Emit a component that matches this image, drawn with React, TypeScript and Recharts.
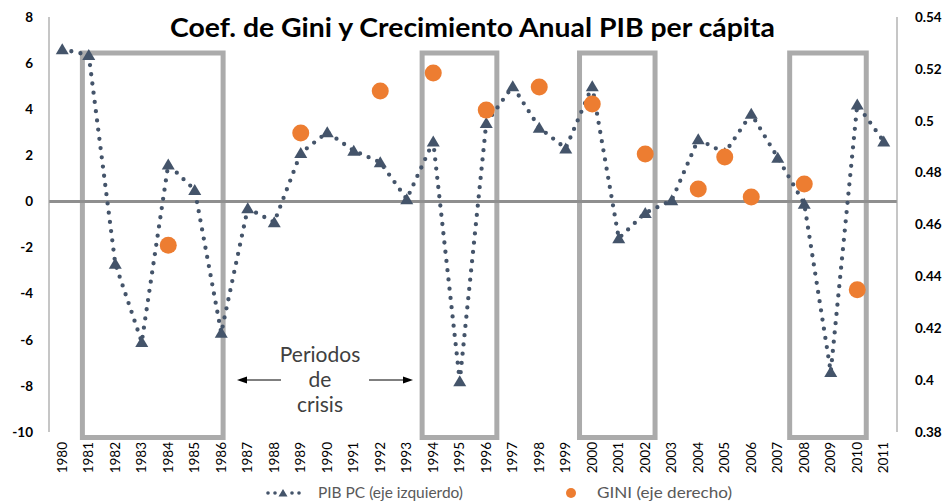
import {
  ComposedChart,
  Line,
  Scatter,
  XAxis,
  YAxis,
  ReferenceLine,
  ReferenceArea,
} from "recharts";

const years = [
  1980, 1981, 1982, 1983, 1984, 1985, 1986, 1987, 1988, 1989, 1990, 1991,
  1992, 1993, 1994, 1995, 1996, 1997, 1998, 1999, 2000, 2001, 2002, 2003,
  2004, 2005, 2006, 2007, 2008, 2009, 2010, 2011,
];

// crecimiento anual PIB per cápita (eje izquierdo)
const pibPC = [
  6.6, 6.35, -2.7, -6.1, 1.6, 0.5, -5.7, -0.3, -0.9, 2.1, 3.0, 2.2, 1.7, 0.1,
  2.6, -7.8, 3.4, 5.0, 3.2, 2.3, 5.0, -1.6, -0.5, 0.05, 2.7, 2.1, 3.8, 1.9,
  -0.1, -7.4, 4.2, 2.6,
];

// coeficiente de Gini (eje derecho)
const giniYears = [
  1984, 1989, 1992, 1994, 1996, 1998, 2000, 2002, 2004, 2005, 2006, 2008, 2010,
];
const giniValues = [
  0.452, 0.4953, 0.5115, 0.5184, 0.5041, 0.513, 0.5065, 0.4872, 0.4737, 0.486,
  0.4706, 0.4756, 0.4348,
];

// periodos de crisis (recuadros)
const crisisFrom = [1980.76, 1993.58, 1999.52, 2007.45];
const crisisTo = [1986.07, 1996.4, 2002.37, 2010.34];

const leftTicks = [-10, -8, -6, -4, -2, 0, 2, 4, 6, 8];
const rightTicks = [0.38, 0.4, 0.42, 0.44, 0.46, 0.48, 0.5, 0.52, 0.54];

const pibData = years.map((year, i) => ({ year, pib: pibPC[i] }));
const giniData = giniYears.map((year, i) => ({ year, gini: giniValues[i] }));

const FONT = "Lato, 'Open Sans', sans-serif";
const NAVY = "#44546A";
const ORANGE = "#ED7D31";
const BOX = "#ABABAB";

const Triangle = (props: any) => {
  const { cx, cy } = props;
  if (cx == null || cy == null) return null;
  return (
    <polygon
      points={`${cx},${cy - 6} ${cx + 6.5},${cy + 5} ${cx - 6.5},${cy + 5}`}
      fill={NAVY}
    />
  );
};

const YearTick = (props: any) => {
  const { x, y, payload } = props;
  return (
    <text
      transform={`translate(${x},${y + 10}) rotate(-90)`}
      textAnchor="end"
      dy="0.35em"
      fontFamily={FONT}
      fontSize={13.5}
      fill="#000"
    >
      {payload.value}
    </text>
  );
};

const fmtRight = (v: number) => String(Number(v.toFixed(2)));

export default function App() {
  return (
    <div style={{ position: "absolute", left: 0, top: 0, width: 948, height: 501 }}>
      <ComposedChart
        width={948}
        height={501}
        data={pibData}
        margin={{ top: 17, right: 0, bottom: 0, left: 0 }}
      >
        <XAxis
          dataKey="year"
          type="number"
          domain={[1979.5, 2011.5]}
          ticks={years}
          interval={0}
          axisLine={false}
          tickLine={false}
          tickSize={0}
          tickMargin={0}
          height={69}
          tick={<YearTick />}
        />
        <YAxis
          yAxisId="left"
          orientation="left"
          domain={[-10, 8]}
          ticks={leftTicks}
          width={49}
          axisLine={{ stroke: "#A0A0A0", strokeWidth: 1.2 }}
          tickLine={false}
          tickSize={0}
          tickMargin={16}
          tick={{ fontFamily: FONT, fontWeight: 700, fontSize: 13.5, fill: "#000" }}
        />
        <YAxis
          yAxisId="right"
          orientation="right"
          domain={[0.38, 0.54]}
          ticks={rightTicks}
          width={51}
          axisLine={{ stroke: "#A0A0A0", strokeWidth: 1.2 }}
          tickLine={false}
          tickSize={0}
          tickMargin={18}
          tickFormatter={fmtRight}
          tick={{ fontFamily: FONT, fontWeight: 700, fontSize: 13.5, fill: "#000" }}
        />
        <ReferenceLine yAxisId="left" y={0} stroke="#8F8F8F" strokeWidth={3} />
        <Line
          yAxisId="left"
          dataKey="pib"
          type="linear"
          stroke={NAVY}
          strokeWidth={4.3}
          strokeDasharray="0 9.3"
          strokeLinecap="round"
          dot={(p: any) => <Triangle key={`t${p.index}`} {...p} />}
          activeDot={false}
          isAnimationActive={false}
        />
        <Scatter
          yAxisId="right"
          data={giniData}
          dataKey="gini"
          shape={(p: any) => <circle cx={p.cx} cy={p.cy} r={8.5} fill={ORANGE} />}
          isAnimationActive={false}
        />
        {crisisFrom.map((x1, i) => (
          <ReferenceArea
            key={i}
            yAxisId="left"
            x1={x1}
            x2={crisisTo[i]}
            y1={-10.24}
            y2={6.44}
            ifOverflow="visible"
            fill="none"
            fillOpacity={0}
            stroke={BOX}
            strokeWidth={5}
          />
        ))}
      </ComposedChart>
      <svg
        width={948}
        height={501}
        style={{ position: "absolute", left: 0, top: 0, pointerEvents: "none" }}
      >
        <text
          x={170}
          y={37}
          textLength={605}
          lengthAdjust="spacingAndGlyphs"
          fontFamily={FONT}
          fontWeight={700}
          fontSize={26}
          fill="#000"
        >
          Coef. de Gini y Crecimiento Anual PIB per cápita
        </text>

        <g fontFamily={FONT} fontSize={21} fill="#404040" textAnchor="middle">
          <text x={320} y={362}>Periodos</text>
          <text x={320} y={387}>de</text>
          <text x={320} y={412}>crisis</text>
        </g>
        <line x1={246} y1={380} x2={281} y2={380} stroke="#000" strokeWidth={1} />
        <polygon points="237,380 247,376.5 247,383.5" fill="#000" />
        <line x1={369} y1={380} x2={404} y2={380} stroke="#000" strokeWidth={1} />
        <polygon points="413,380 403,376.5 403,383.5" fill="#000" />

        <g fill={NAVY}>
          <circle cx={268} cy={493} r={1.8} />
          <circle cx={275} cy={493} r={1.8} />
          <polygon points="283,489 287.5,496.5 278.5,496.5" />
          <circle cx={292} cy={493} r={1.8} />
          <circle cx={299} cy={493} r={1.8} />
        </g>
        <text
          x={318}
          y={498}
          textLength={145}
          lengthAdjust="spacingAndGlyphs"
          fontFamily={FONT}
          fontSize={15}
          fill="#595959"
        >
          PIB PC (eje izquierdo)
        </text>
        <circle cx={571} cy={493} r={5} fill={ORANGE} />
        <text
          x={597}
          y={498}
          textLength={135}
          lengthAdjust="spacingAndGlyphs"
          fontFamily={FONT}
          fontSize={15}
          fill="#595959"
        >
          GINI (eje derecho)
        </text>
      </svg>
    </div>
  );
}
